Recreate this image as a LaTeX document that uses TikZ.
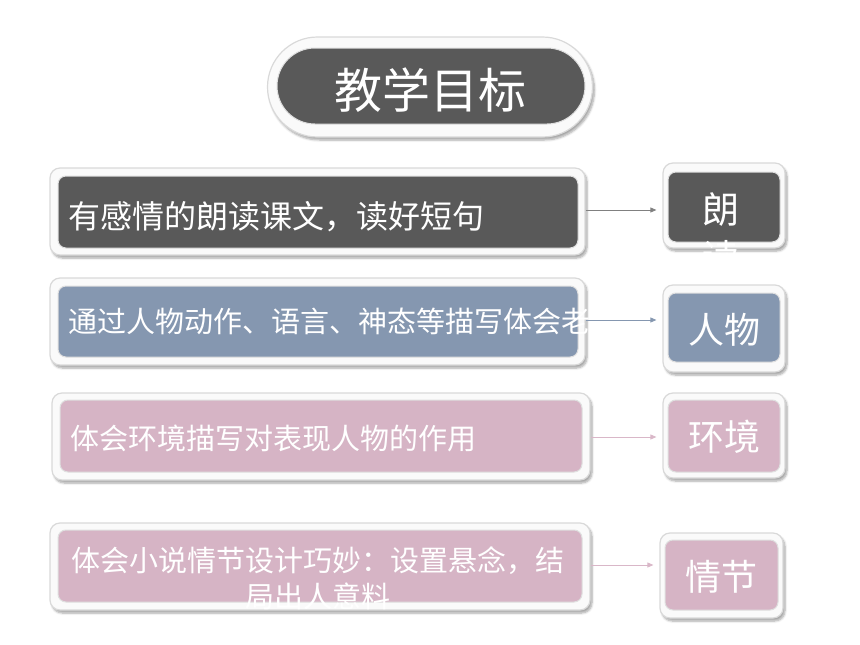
\documentclass[tikz,border=0pt]{standalone}
\usepackage{fontspec}
\setmainfont{Noto Sans CJK SC}
\usetikzlibrary{arrows.meta,shadows.blur}
\definecolor{darkpanel}{HTML}{595959}
\definecolor{bluepanel}{HTML}{8597B0}
\definecolor{pinkpanel}{HTML}{D6B4C5}
\definecolor{pinkline}{HTML}{D9B7C8}

\begin{document}
\begin{tikzpicture}[x=1pt,y=-1pt,
    frame/.style={rounded corners=10pt, fill=gray!4, draw=gray!30, line width=1.2pt,
      blur shadow={shadow xshift=2pt, shadow yshift=-3pt, shadow blur steps=6, shadow opacity=35}},
    panel/.style={rounded corners=8pt, draw=gray!25, line width=1pt},
    words/.style={text=white, inner sep=0pt},
    link/.style={-{Triangle[length=6pt,width=5pt]}, line width=0.8pt, shorten >=6pt}]
    \useasboundingbox (0,0) rectangle (860,645);
    % Draw the title
    \node[frame, rounded corners=50pt, minimum width=325pt, minimum height=100pt] (title) at (430,87) {};
    \node[panel, rounded corners=38pt, fill=darkpanel, minimum width=308pt, minimum height=76pt] at (431,86) {};
    \node[words, font=\fontsize{48}{52}\selectfont] at (430,90) {教学目标};

    % Draw the long boxes
    \node[frame, minimum width=535pt, minimum height=87pt] (f1) at (317.5,211.5) {};
    \node[panel, fill=darkpanel, minimum width=520pt, minimum height=72pt] at (318,212) {};
    \node[frame, minimum width=535pt, minimum height=87pt] (f2) at (317.5,321.5) {};
    \node[panel, fill=bluepanel, minimum width=520pt, minimum height=71pt] at (318,321.5) {};
    \node[frame, minimum width=538pt, minimum height=87pt] (f3) at (321,436.5) {};
    \node[panel, fill=pinkpanel, minimum width=522pt, minimum height=72pt] at (321,436) {};
    \node[frame, minimum width=540pt, minimum height=87pt] (f4) at (320,566.5) {};
    \node[panel, fill=pinkpanel, minimum width=524pt, minimum height=72pt] at (320,566) {};

    % Draw the small boxes
    \node[frame, minimum width=122pt, minimum height=85pt] (s1) at (724,205.5) {};
    \node[panel, fill=darkpanel, minimum width=112pt, minimum height=70pt] at (724,207) {};
    \node[frame, minimum width=122pt, minimum height=87pt] (s2) at (724,328.5) {};
    \node[panel, fill=bluepanel, minimum width=112pt, minimum height=69pt] at (724,327.5) {};
    \node[frame, minimum width=122pt, minimum height=85pt] (s3) at (724,435.5) {};
    \node[panel, fill=pinkpanel, minimum width=112pt, minimum height=72pt] at (724,436) {};
    \node[frame, minimum width=123pt, minimum height=85pt] (s4) at (721.5,575.5) {};
    \node[panel, fill=pinkpanel, minimum width=113pt, minimum height=70pt] at (721.5,575) {};

    % Draw the texts
    \node[words, anchor=west, font=\fontsize{32}{36}\selectfont] (t1) at (68,217) {有感情的朗读课文，读好短句};
    \node[words, anchor=west, font=\fontsize{29}{34}\selectfont] (t2) at (68,321) {通过人物动作、语言、神态等描写体会老汉};
    \node[words, anchor=west, font=\fontsize{29}{34}\selectfont] (t3) at (70,438) {体会环境描写对表现人物的作用};
    \node[words, anchor=north, align=center, font=\fontsize{29}{36}\selectfont] (t4) at (318,546) {体会小说情节设计巧妙：设置悬念，结\\局出人意料};
    \node[words, anchor=north, align=center, font=\fontsize{37}{48}\selectfont] (w1) at (721,192) {朗\\读};
    \node[words, font=\fontsize{36}{40}\selectfont] (w2) at (724,330) {人物};
    \node[words, font=\fontsize{36}{40}\selectfont] (w3) at (724,437) {环境};
    \node[words, font=\fontsize{36}{40}\selectfont] (w4) at (721,577) {情节};

    % Draw the arrows
    \draw[link, gray] ([yshift=1.5pt]f1.east) -- ([yshift=1.5pt]f1.east -| s1.west);
    \draw[link, bluepanel] ([yshift=1.5pt]f2.east) -- ([yshift=1.5pt]f2.east -| s2.west);
    \draw[link, pinkline] ([yshift=-0.5pt]f3.east) -- ([yshift=-0.5pt]f3.east -| s3.west);
    \draw[link, pinkline] ([yshift=1.5pt]f4.east) -- ([yshift=1.5pt]f4.east -| s4.west);
\end{tikzpicture}
\end{document}
